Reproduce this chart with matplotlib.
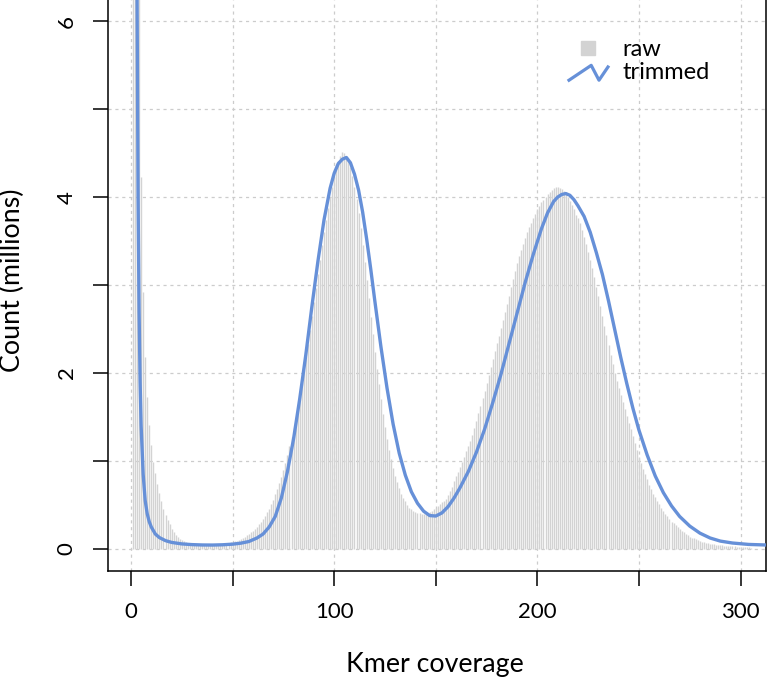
import matplotlib
matplotlib.use("Agg")
import matplotlib.pyplot as plt
from matplotlib.legend_handler import HandlerBase
from matplotlib.lines import Line2D
from matplotlib.ticker import MultipleLocator, FuncFormatter

plt.rcParams['font.family'] = ['Lato', 'DejaVu Sans']

# raw kmer histogram, coverage 1..305 (millions)
raw_counts = [
    40, 20, 10, 6.6, 4.23, 2.92, 2.18, 1.73, 1.41, 1.18,
    0.99, 0.86, 0.74, 0.64, 0.54, 0.46, 0.39, 0.33, 0.28, 0.23,
    0.19, 0.16, 0.135, 0.115, 0.10, 0.09, 0.08, 0.072, 0.066, 0.062,
    0.058, 0.055, 0.053, 0.051, 0.05, 0.049, 0.048, 0.048, 0.048, 0.049,
    0.05, 0.051, 0.053, 0.055, 0.058, 0.061, 0.065, 0.07, 0.075, 0.081,
    0.088, 0.096, 0.105, 0.115, 0.126, 0.14, 0.155, 0.17, 0.19, 0.21,
    0.23, 0.255, 0.28, 0.31, 0.34, 0.38, 0.42, 0.46, 0.51, 0.56,
    0.62, 0.68, 0.75, 0.82, 0.9, 0.98, 1.07, 1.17, 1.27, 1.38,
    1.5, 1.62, 1.75, 1.89, 2.03, 2.18, 2.33, 2.49, 2.65, 2.81,
    2.97, 3.13, 3.29, 3.45, 3.6, 3.74, 3.88, 4.0, 4.12, 4.23,
    4.33, 4.41, 4.47, 4.51, 4.5, 4.47, 4.42, 4.34, 4.24, 4.12,
    3.98, 3.82, 3.65, 3.46, 3.26, 3.06, 2.85, 2.64, 2.44, 2.24,
    2.05, 1.87, 1.7, 1.54, 1.39, 1.25, 1.13, 1.02, 0.92, 0.83,
    0.76, 0.69, 0.63, 0.58, 0.54, 0.5, 0.47, 0.45, 0.43, 0.42,
    0.41, 0.405, 0.40, 0.40, 0.405, 0.41, 0.42, 0.435, 0.45, 0.47,
    0.49, 0.51, 0.53, 0.55, 0.57, 0.61, 0.66, 0.71, 0.77, 0.83,
    0.88, 0.93, 0.99, 1.05, 1.11, 1.17, 1.23, 1.3, 1.38, 1.46,
    1.55, 1.63, 1.72, 1.8, 1.89, 1.98, 2.07, 2.16, 2.25, 2.34,
    2.42, 2.51, 2.6, 2.69, 2.78, 2.88, 2.98, 3.07, 3.16, 3.25,
    3.33, 3.4, 3.47, 3.54, 3.6, 3.66, 3.71, 3.76, 3.81, 3.86,
    3.9, 3.94, 3.97, 4.0, 4.03, 4.06, 4.08, 4.1, 4.11, 4.11,
    4.1, 4.09, 4.07, 4.04, 4.0, 3.96, 3.91, 3.86, 3.8, 3.76,
    3.7, 3.63, 3.55, 3.47, 3.38, 3.29, 3.19, 3.09, 2.98, 2.87,
    2.76, 2.65, 2.54, 2.43, 2.32, 2.21, 2.1, 2.0, 1.91, 1.83,
    1.75, 1.67, 1.59, 1.51, 1.43, 1.36, 1.29, 1.21, 1.13, 1.05,
    0.98, 0.91, 0.85, 0.79, 0.73, 0.68, 0.63, 0.59, 0.55, 0.51,
    0.47, 0.43, 0.4, 0.37, 0.34, 0.31, 0.29, 0.27, 0.25, 0.23,
    0.21, 0.19, 0.17, 0.155, 0.14, 0.13, 0.12, 0.11, 0.1, 0.092,
    0.085, 0.078, 0.072, 0.066, 0.061, 0.057, 0.053, 0.049, 0.046, 0.043,
    0.04, 0.038, 0.036, 0.034, 0.032, 0.03, 0.029, 0.028, 0.027, 0.026,
    0.024, 0.022, 0.02, 0.018, 0.016,
]
raw_cov = list(range(1, len(raw_counts) + 1))

# trimmed curve
trim_cov = [2, 3, 3.5, 4, 4.5, 5, 6, 7, 8, 9, 10, 12, 14, 17, 20, 25, 30, 35, 40, 45,
            50, 54, 58, 62, 65, 68, 71, 74, 77, 80, 83, 86, 89, 92, 95, 98, 100, 102,
            104, 106, 108, 110, 112, 114, 116, 118, 120, 123, 126, 129, 132, 135, 138,
            141, 144, 147, 150, 153, 156, 159, 162, 166, 170, 174, 178, 182, 186, 190,
            194, 198, 202, 205, 208, 210, 212, 214, 216, 218, 220, 223, 226, 229, 232,
            235, 238, 241, 244, 247, 250, 254, 258, 262, 266, 270, 275, 280, 285, 290,
            296, 304, 312]
trim_counts = [30, 6.3, 4.0, 2.7, 1.9, 1.4, 0.85, 0.55, 0.40, 0.31, 0.25, 0.17, 0.13,
               0.095, 0.075, 0.058, 0.05, 0.046, 0.045, 0.048,
               0.055, 0.066, 0.085, 0.125, 0.17, 0.25, 0.37, 0.58, 0.88, 1.25, 1.7,
               2.2, 2.75, 3.27, 3.74, 4.1, 4.27, 4.38,
               4.43, 4.45, 4.39, 4.26, 4.08, 3.83, 3.52, 3.18, 2.82, 2.3, 1.83, 1.42,
               1.09, 0.84, 0.65,
               0.52, 0.43, 0.38, 0.375, 0.41, 0.48, 0.58, 0.70, 0.88, 1.1, 1.36, 1.66,
               1.98, 2.33, 2.68,
               3.03, 3.35, 3.64, 3.82, 3.95, 4.0, 4.03, 4.04, 4.02, 3.97, 3.9, 3.78,
               3.6, 3.37, 3.12,
               2.82, 2.5, 2.18, 1.88, 1.6, 1.35, 1.07, 0.83, 0.64, 0.49, 0.37, 0.26,
               0.18, 0.125, 0.09,
               0.068, 0.052, 0.046]

raw_color = '#d3d3d3'
trim_color = '#6690d8'


class ZigzagHandler(HandlerBase):
    def create_artists(self, legend, orig_handle, xdescent, ydescent,
                       width, height, fontsize, trans):
        xs = [f * width - xdescent for f in (0, 0.57, 0.77, 1.0)]
        ys = [f * height - ydescent for f in (-0.05, 0.85, -0.05, 0.75)]
        line = Line2D(xs, ys, color=trim_color, lw=2.3)
        line.set_transform(trans)
        return [line]


fig = plt.figure(figsize=(7.67, 6.77), dpi=100)
ax = fig.add_axes([108 / 767, 1 - 571 / 677, 658 / 767, 571 / 677])

ax.vlines(raw_cov, 0, raw_counts, colors=raw_color, lw=1.0, zorder=2)
ax.plot(trim_cov, trim_counts, color=trim_color, lw=2.4, zorder=3,
        solid_joinstyle='round')

ax.set_xlim(-11.3, 312.5)
ax.set_ylim(-0.25, 6.24)

ax.xaxis.set_major_locator(MultipleLocator(50))
ax.yaxis.set_major_locator(MultipleLocator(1))
ax.xaxis.set_major_formatter(FuncFormatter(lambda v, p: '%d' % v if v % 100 == 0 else ''))
ax.yaxis.set_major_formatter(FuncFormatter(lambda v, p: '%d' % v if v % 2 == 0 else ''))
ax.tick_params(length=10.5, width=1.1, labelsize=16, pad=12)
for lab in ax.get_yticklabels():
    lab.set_rotation(90)
    lab.set_va('center')

ax.grid(True, color='#cccccc', linestyle=(0, (2.5, 3)), lw=0.9, zorder=0)
ax.set_axisbelow(True)
ax.spines['top'].set_visible(False)
for s in ('left', 'bottom', 'right'):
    ax.spines[s].set_linewidth(1.1)

fig.text(435 / 767, 1 - 672 / 677, 'Kmer coverage', fontsize=19.3,
         ha='center', va='baseline')
fig.text(12.5 / 767, 1 - 280 / 677, 'Count (millions)', fontsize=19.3,
         ha='center', va='center', rotation=90)

raw_handle = Line2D([], [], marker='s', ls='none', color=raw_color, markersize=10)
trim_handle = Line2D([], [], color=trim_color)
ax.legend([raw_handle, trim_handle], ['raw', 'trimmed'], loc='upper left',
          bbox_to_anchor=(569 / 767, 1 - 39.5 / 677), bbox_transform=fig.transFigure,
          frameon=False, fontsize=17, borderpad=0, borderaxespad=0,
          handlelength=1.65, handletextpad=0.62, labelspacing=0.08,
          handler_map={trim_handle: ZigzagHandler()})

fig.savefig('out.png', dpi=100)
